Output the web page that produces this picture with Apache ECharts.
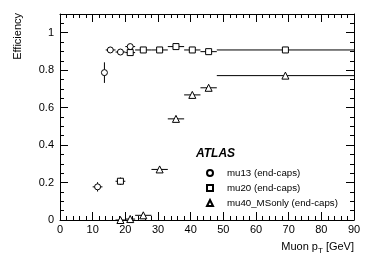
<!DOCTYPE html>
<html><head><meta charset="utf-8">
<script src="https://cdn.jsdelivr.net/npm/echarts@6/dist/echarts.min.js"></script>
<style>html,body{margin:0;padding:0;background:#fff}#c{width:374px;height:262px}</style>
</head><body><div id="c"></div>
<script>
// ---- data ----
const seriesNames = ['mu13 (end-caps)', 'mu20 (end-caps)', 'mu40_MSonly (end-caps)'];

const mu13X   = [11.5, 13.6, 15.4, 18.5, 21.5];
const mu13Lo  = [10, 13.2, 14, 17, 20];
const mu13Hi  = [13, 14, 17, 20, 23];
const mu13Y   = [0.177, 0.787, 0.908, 0.897, 0.926];
const mu13Err = [0.025, 0.055, 0.012, 0.010, 0.014];

const mu20X   = [18.5, 21.5, 25.5, 30.5, 35.5, 40.5, 45.5, 69];
const mu20Lo  = [17, 20, 23, 28, 33, 38, 43, 48];
const mu20Hi  = [20, 23, 28, 33, 38, 43, 48, 90];
const mu20Y   = [0.207, 0.894, 0.908, 0.908, 0.926, 0.908, 0.899, 0.908];
const mu20Err = [0.02, 0.010, 0.006, 0.005, 0.005, 0.005, 0.006, 0.004];

const mu40X   = [18.5, 21.5, 25.5, 30.5, 35.5, 40.5, 45.5, 69];
const mu40Lo  = [17, 20, 23, 28, 33, 38, 43, 48];
const mu40Hi  = [20, 23, 28, 33, 38, 43, 48, 90];
const mu40Y   = [0.0, 0.005, 0.025, 0.27, 0.54, 0.668, 0.706, 0.771];
const mu40Err = [0.006, 0.018, 0.008, 0.008, 0.008, 0.008, 0.008, 0.006];

const xMin = 0, xMax = 90, xStep = 10;
const yMin = 0, yMax = 1.1, yStep = 0.2, yMinorStep = 0.05;

// ---- build ----
const FONT = '"Liberation Sans", Arial, sans-serif';
function rows(x, lo, hi, y, e) { return x.map((v, i) => [v, lo[i], hi[i], y[i], e[i]]); }
const sets = [
  { name: seriesNames[0], rows: rows(mu13X, mu13Lo, mu13Hi, mu13Y, mu13Err), symbol: 'circle', size: 6 },
  { name: seriesNames[1], rows: rows(mu20X, mu20Lo, mu20Hi, mu20Y, mu20Err), symbol: 'rect', size: 6 },
  { name: seriesNames[2], rows: rows(mu40X, mu40Lo, mu40Hi, mu40Y, mu40Err), symbol: 'triangle', size: 7 }
];

function renderErr(params, api) {
  const x = api.value(0), lo = api.value(1), hi = api.value(2), y = api.value(3), e = api.value(4);
  const a = api.coord([lo, y]), b = api.coord([hi, y]);
  const c = api.coord([x, y - e]), d = api.coord([x, y + e]);
  const st = { stroke: '#000', lineWidth: 1 };
  return { type: 'group', children: [
    { type: 'line', shape: { x1: a[0], y1: a[1], x2: b[0], y2: b[1] }, style: st },
    { type: 'line', shape: { x1: c[0], y1: c[1], x2: d[0], y2: d[1] }, style: st }
  ]};
}

const series = [];
sets.forEach(s => {
  series.push({ type: 'custom', renderItem: renderErr, data: s.rows, encode: { x: [0, 1, 2], y: [3, 4] }, z: 2, silent: true, clip: true });
});
sets.forEach(s => {
  series.push({ type: 'scatter', name: s.name, symbol: s.symbol, symbolSize: s.size,
    data: s.rows.map(r => [r[0], r[3]]), z: 3,
    itemStyle: { color: '#fff', borderColor: '#000', borderWidth: 1, opacity: 1 } });
});

const lineStyle = { color: '#000', width: 1 };
function xAx(pos, labels) {
  return { type: 'value', min: xMin, max: xMax, interval: xStep, position: pos,
    axisLine: { show: true, onZero: false, lineStyle },
    axisTick: { show: true, inside: true, length: 8, lineStyle },
    minorTick: { show: true, splitNumber: 5, length: 4, lineStyle },
    splitLine: { show: false }, minorSplitLine: { show: false },
    axisLabel: { show: labels, fontFamily: FONT, fontSize: 11, color: '#000', margin: 4 } };
}
function yAx(pos, step, len, labels, line) {
  return { type: 'value', min: yMin, max: yMax, interval: step, position: pos, offset: 0,
    axisLine: { show: line, onZero: false, lineStyle },
    axisTick: { show: true, inside: true, length: len, lineStyle },
    splitLine: { show: false },
    axisLabel: { show: labels, showMaxLabel: false, fontFamily: FONT, fontSize: 11, color: '#000', margin: 6 } };
}

const option = {
  animation: false,
  backgroundColor: '#fff',
  grid: { left: 60, right: 20, top: 14, bottom: 42, containLabel: false },
  xAxis: [xAx('bottom', true), xAx('top', false)],
  yAxis: [yAx('left', yStep, 8, true, true), yAx('left', yMinorStep, 4, false, false),
          yAx('right', yStep, 8, false, true), yAx('right', yMinorStep, 4, false, false)],
  title: { text: 'ATLAS', left: 196, top: 148, padding: 0,
    textStyle: { fontFamily: FONT, fontSize: 12, fontWeight: 'bold', fontStyle: 'italic', color: '#000' } },
  legend: { data: seriesNames, orient: 'vertical', left: 206, top: 168, padding: 0,
    itemWidth: 6, itemHeight: 6, itemGap: 5,
    textStyle: { fontFamily: FONT, fontSize: 9.7, color: '#000', padding: [0, 0, 0, 9] } },
  graphic: [
    { type: 'text', x: 12, y: 13, rotation: Math.PI / 2,
      style: { text: 'Efficiency', font: '11px ' + FONT, fill: '#000', align: 'right', verticalAlign: 'top' } },
    { type: 'text', x: 354, y: 247,
      style: { text: 'Muon p{s|T} [GeV]', font: '11px ' + FONT, fill: '#000', align: 'right', verticalAlign: 'middle',
        rich: { s: { fontSize: 8, fontFamily: FONT, fill: '#000', padding: [7, 0, 0, 0] } } } }
  ],
  series
};
const chart = echarts.init(document.getElementById('c'), null, { renderer: 'canvas' });
chart.setOption(option);
</script>
</body></html>
